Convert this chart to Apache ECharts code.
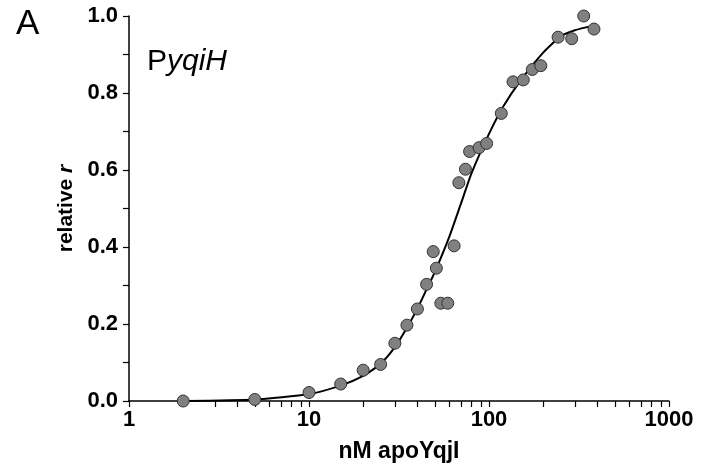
<!DOCTYPE html>
<html>
<head>
<meta charset="utf-8">
<script src="https://cdn.jsdelivr.net/npm/echarts@6/dist/echarts.min.js"></script>
<style>
  html, body { margin: 0; padding: 0; background: #ffffff; }
  #chart { width: 701px; height: 468px; }
</style>
</head>
<body>
<div id="chart"></div>
<script>
  // measured points (nM apoYqjI, relative r)
  var conc = [2, 5, 10, 15, 20, 25, 30, 35, 40, 45, 49, 51, 54, 59, 64, 68, 74, 78, 88, 97, 117, 136, 155, 174, 194, 242, 288, 336, 383];
  var rel = [0, 0.004, 0.022, 0.044, 0.08, 0.095, 0.15, 0.197, 0.239, 0.303, 0.388, 0.345, 0.254, 0.254, 0.403, 0.567, 0.602, 0.648, 0.658, 0.669, 0.747, 0.829, 0.834, 0.861, 0.871, 0.945, 0.941, 1.0, 0.966];

  // fitted curve
  var fitX = [2, 5, 10, 15, 20, 25, 30, 35, 40, 45, 50, 60, 70, 80, 100, 120, 150, 200, 250, 300, 383];
  var fitY = [0, 0.004, 0.018, 0.04, 0.065, 0.097, 0.14, 0.19, 0.24, 0.29, 0.335, 0.425, 0.514, 0.592, 0.694, 0.765, 0.833, 0.905, 0.947, 0.963, 0.975];

  var xTicks = [1, 2, 3, 4, 5, 6, 7, 8, 9, 10, 20, 30, 40, 50, 60, 70, 80, 90, 100, 200, 300, 400, 500, 600, 700, 800, 900, 1000];
  var xLabels = [1, 10, 100, 1000];
  var yTicks = [0, 0.1, 0.2, 0.3, 0.4, 0.5, 0.6, 0.7, 0.8, 0.9, 1.0];
  var yLabels = [0, 0.2, 0.4, 0.6, 0.8, 1.0];

  var points = conc.map(function (c, i) { return [c, rel[i]]; });
  var fit = fitX.map(function (c, i) { return [c, fitY[i]]; });

  var font = 'Liberation Sans, Arial, Helvetica, sans-serif';
  var myChart = echarts.init(document.getElementById('chart'));
  var option = {
    animation: false,
    backgroundColor: '#ffffff',
    title: [
      { text: 'A', left: 11, top: 2, textStyle: { fontFamily: font, fontSize: 35, fontWeight: 'normal', color: '#000' } },
      {
        text: 'P{i|yqiH}', left: 142, top: 42,
        textStyle: {
          fontFamily: font, fontSize: 30, fontWeight: 'normal', color: '#000',
          rich: { i: { fontFamily: font, fontSize: 30, fontStyle: 'italic', color: '#000' } }
        }
      }
    ],
    grid: { left: 129, right: 32, top: 16, bottom: 67 },
    xAxis: {
      type: 'log',
      logBase: 10,
      min: 1,
      max: 1000,
      name: 'nM apoYqjI',
      nameLocation: 'middle',
      nameGap: 39,
      nameTextStyle: { fontFamily: font, fontSize: 23, fontWeight: 'bold', color: '#000' },
      axisLine: { lineStyle: { color: '#000', width: 1.5 } },
      axisTick: { customValues: xTicks, length: 6, lineStyle: { color: '#000', width: 1.2 } },
      axisLabel: {
        customValues: xLabels, margin: 8,
        fontFamily: font, fontSize: 22, fontWeight: 'bold', color: '#000',
        formatter: function (v) { return String(Math.round(v)); }
      },
      splitLine: { show: false }
    },
    yAxis: {
      type: 'value',
      min: 0,
      max: 1,
      name: 'relative {i|r}',
      nameLocation: 'middle',
      nameGap: 50,
      nameTextStyle: {
        fontFamily: font, fontSize: 21, fontWeight: 'bold', color: '#000',
        rich: { i: { fontFamily: font, fontSize: 21, fontWeight: 'bold', fontStyle: 'italic', color: '#000' } }
      },
      axisLine: { show: true, lineStyle: { color: '#000', width: 1.5 } },
      axisTick: { show: true, customValues: yTicks, length: 6, lineStyle: { color: '#000', width: 1.2 } },
      axisLabel: {
        customValues: yLabels, margin: 11,
        fontFamily: font, fontSize: 22, fontWeight: 'bold', color: '#000',
        formatter: function (v) { return v.toFixed(1); }
      },
      splitLine: { show: false }
    },
    series: [
      {
        type: 'line',
        data: fit,
        showSymbol: false,
        smooth: 0.2,
        lineStyle: { color: '#000', width: 2 },
        z: 2
      },
      {
        type: 'scatter',
        data: points,
        symbol: 'circle',
        symbolSize: 12,
        itemStyle: { color: '#808080', borderColor: '#333', borderWidth: 1, opacity: 1 },
        z: 3
      }
    ]
  };
  myChart.setOption(option);
</script>
</body>
</html>
